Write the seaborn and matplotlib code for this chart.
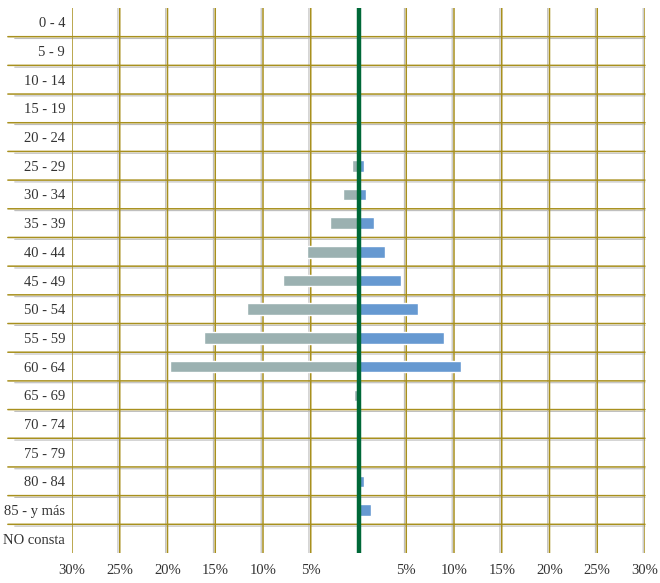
import numpy as np
import pandas as pd
import matplotlib
matplotlib.use("Agg")
import matplotlib.pyplot as plt
import seaborn as sns

# ---- data ----
age_groups = ["0 - 4", "5 - 9", "10 - 14", "15 - 19", "20 - 24", "25 - 29", "30 - 34",
              "35 - 39", "40 - 44", "45 - 49", "50 - 54", "55 - 59", "60 - 64",
              "65 - 69", "70 - 74", "75 - 79", "80 - 84", "85 - y más", "NO consta"]
left_pct = [0, 0, 0, 0, 0, 0.7, 1.6, 3.0, 5.4, 7.9, 11.7, 16.2, 19.7, 0.45, 0, 0, 0, 0, 0]
right_pct = [0, 0, 0, 0, 0, 0.6, 0.8, 1.6, 2.8, 4.4, 6.2, 9.0, 10.7, 0, 0, 0, 0.6, 1.3, 0]
x_ticks = [-30, -25, -20, -15, -10, -5, 5, 10, 15, 20, 25, 30]
x_ticklabels = ["30%", "25%", "20%", "15%", "10%", "5%", "5%", "10%", "15%", "20%", "25%", "30%"]

sns.set_style("white")
plt.rcParams["font.family"] = ["Liberation Serif", "DejaVu Serif"]

df = pd.DataFrame({"grupo": age_groups,
                   "izq": [-v for v in left_pct],
                   "der": right_pct})

fig = plt.figure(figsize=(6.6, 5.83), dpi=100)
ax = fig.add_axes([72 / 660, 1 - 553 / 583, (645 - 72) / 660, (553 - 8) / 583])

GOLD = "#A8901E"
GRAY = "#BDBDBD"

# grid lines (gray shadow + gold)
for t in range(-30, 31, 5):
    if t == 0:
        continue
    ax.axvline(t - 0.19, color=GRAY, lw=0.8, zorder=0.5, snap=False)
    ax.axvline(t, color=GOLD, lw=1.1, zorder=0.6, snap=False)
for k in range(len(age_groups) - 1):
    y = k + 0.5
    ax.plot([-0.1, 1.0], [y + 0.063, y + 0.063], transform=ax.get_yaxis_transform(),
            color=GRAY, lw=0.8, clip_on=False, zorder=0.5, snap=False)
    ax.plot([-0.112, 1.0], [y, y], transform=ax.get_yaxis_transform(),
            color=GOLD, lw=1.1, clip_on=False, zorder=0.6, snap=False)

sns.barplot(data=df, x="izq", y="grupo", color="#9BB1B1", saturation=1,
            width=0.4, orient="h", ax=ax, zorder=2)
sns.barplot(data=df, x="der", y="grupo", color="#6699D1", saturation=1,
            width=0.4, orient="h", ax=ax, zorder=2)

ax.axvline(0, color="#006838", lw=3.2, zorder=3)

ax.set_xlim(-30, 30)
ax.set_ylim(len(age_groups) - 0.5, -0.5)
ax.set_xticks(x_ticks)
ax.set_xticklabels(x_ticklabels, fontsize=10.5, color="#333333")
ax.tick_params(axis="x", length=0, pad=8)
ax.tick_params(axis="y", length=0, pad=5, labelsize=10.5, labelcolor="#333333")
ax.set_xlabel("")
ax.set_ylabel("")
for s in ax.spines.values():
    s.set_visible(False)

fig.savefig("out.png", dpi=100)
